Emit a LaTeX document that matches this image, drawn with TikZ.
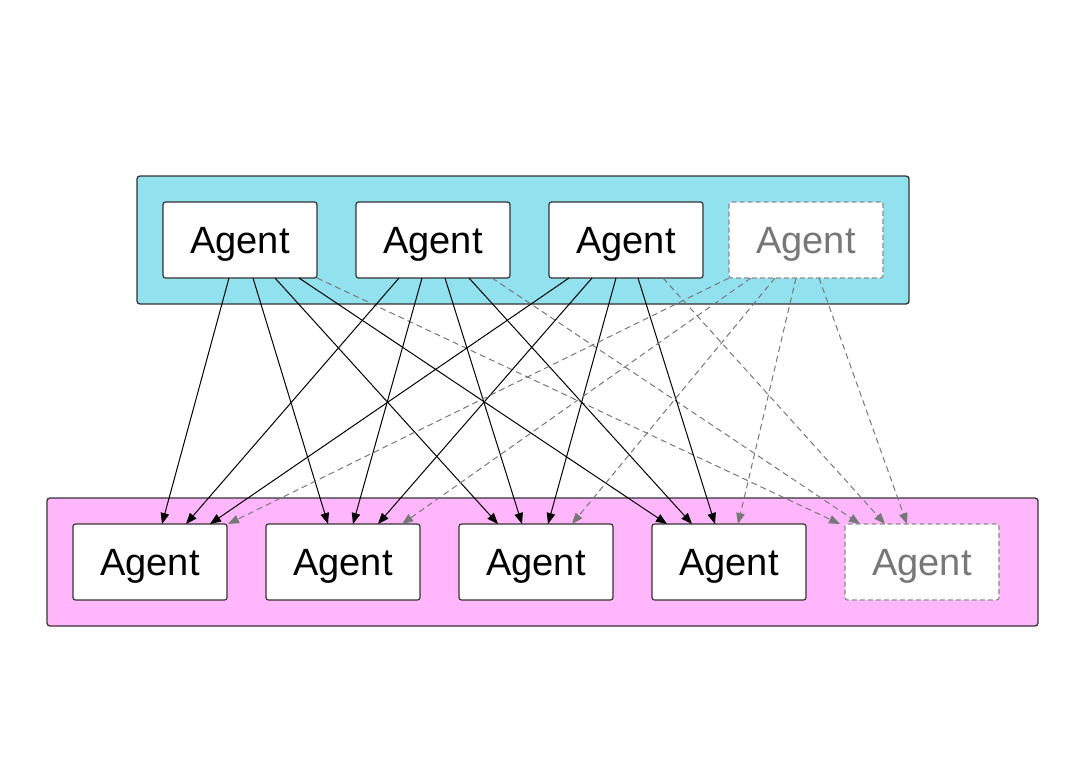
\documentclass[tikz,border=0pt]{standalone}
\usepackage{fontspec}
\setmainfont{Liberation Sans}
\usetikzlibrary{arrows.meta, positioning}
\definecolor{poolcyan}{RGB}{146, 225, 238}
\definecolor{poolpink}{RGB}{255, 182, 250}
\definecolor{edgegray}{RGB}{119, 119, 119}
\definecolor{framegray}{RGB}{51, 51, 51}

\begin{document}
\begin{tikzpicture}[
    x=1pt, y=-1pt,
    pool/.style={draw=framegray, line width=1.3pt, rounded corners=3pt, minimum height=128pt, inner sep=0pt},
    agent/.style={draw=framegray, fill=white, line width=1.2pt, rounded corners=2.5pt, minimum width=154pt, minimum height=76pt, inner sep=0pt, outer sep=0pt, text depth=0pt, font=\fontsize{38}{40}\selectfont},
    ghost/.style={agent, draw=edgegray!85, dash pattern=on 5pt off 3pt, text=edgegray},
    link/.style={line width=1pt, -{Triangle[length=11pt, width=8.5pt]}},
    weak/.style={link, edgegray, dash pattern=on 6pt off 4pt},
]
\useasboundingbox (0,0) rectangle (1069,779);

% Pools
\node[pool, fill=poolcyan, minimum width=772pt] (upper) at (523,240) {};
\node[pool, fill=poolpink, minimum width=991pt] (lower) at (542.5,562) {};

% Upper agents
\node[agent] (a1) at (240,240) {Agent};
\node[agent, right=39pt of a1] (a2) {Agent};
\node[agent, right=39pt of a2] (a3) {Agent};
\node[ghost, right=26pt of a3] (a4) {Agent};

% Lower agents
\node[agent] (b1) at (150,562) {Agent};
\node[agent, right=39pt of b1] (b2) {Agent};
\node[agent, right=39pt of b2] (b3) {Agent};
\node[agent, right=39pt of b3] (b4) {Agent};
\node[ghost, right=39pt of b4] (b5) {Agent};

% Edges from a1
\draw[link] ([xshift=-11pt]a1.south) -- ([xshift=12pt]b1.north);
\draw[link] ([xshift=13pt]a1.south) -- ([xshift=-15pt]b2.north);
\draw[link] ([xshift=35pt]a1.south) -- ([xshift=-38pt]b3.north);
\draw[link] ([xshift=59pt]a1.south) -- ([xshift=-62pt]b4.north);
\draw[weak] ([xshift=77pt]a1.south) -- ([xshift=-82pt]b5.north);

% Edges from a2
\draw[link] ([xshift=-34pt]a2.south) -- ([xshift=36pt]b1.north);
\draw[link] ([xshift=-11pt]a2.south) -- ([xshift=10pt]b2.north);
\draw[link] ([xshift=12pt]a2.south) -- ([xshift=-14pt]b3.north);
\draw[link] ([xshift=36pt]a2.south) -- ([xshift=-37pt]b4.north);
\draw[weak] ([xshift=59pt]a2.south) -- ([xshift=-62pt]b5.north);

% Edges from a3
\draw[link] ([xshift=-57pt]a3.south) -- ([xshift=60pt]b1.north);
\draw[link] ([xshift=-34pt]a3.south) -- ([xshift=35pt]b2.north);
\draw[link] ([xshift=-10pt]a3.south) -- ([xshift=12pt]b3.north);
\draw[link] ([xshift=12pt]a3.south) -- ([xshift=-14pt]b4.north);
\draw[weak] ([xshift=37pt]a3.south) -- ([xshift=-37pt]b5.north);

% Edges from a4
\draw[weak] ([xshift=-77pt]a4.south) -- ([xshift=78pt]b1.north);
\draw[weak] ([xshift=-55pt]a4.south) -- ([xshift=59pt]b2.north);
\draw[weak] ([xshift=-31pt]a4.south) -- ([xshift=36pt]b3.north);
\draw[weak] ([xshift=-10pt]a4.south) -- ([xshift=9pt]b4.north);
\draw[weak] ([xshift=13pt]a4.south) -- ([xshift=-15pt]b5.north);

\end{tikzpicture}
\end{document}
